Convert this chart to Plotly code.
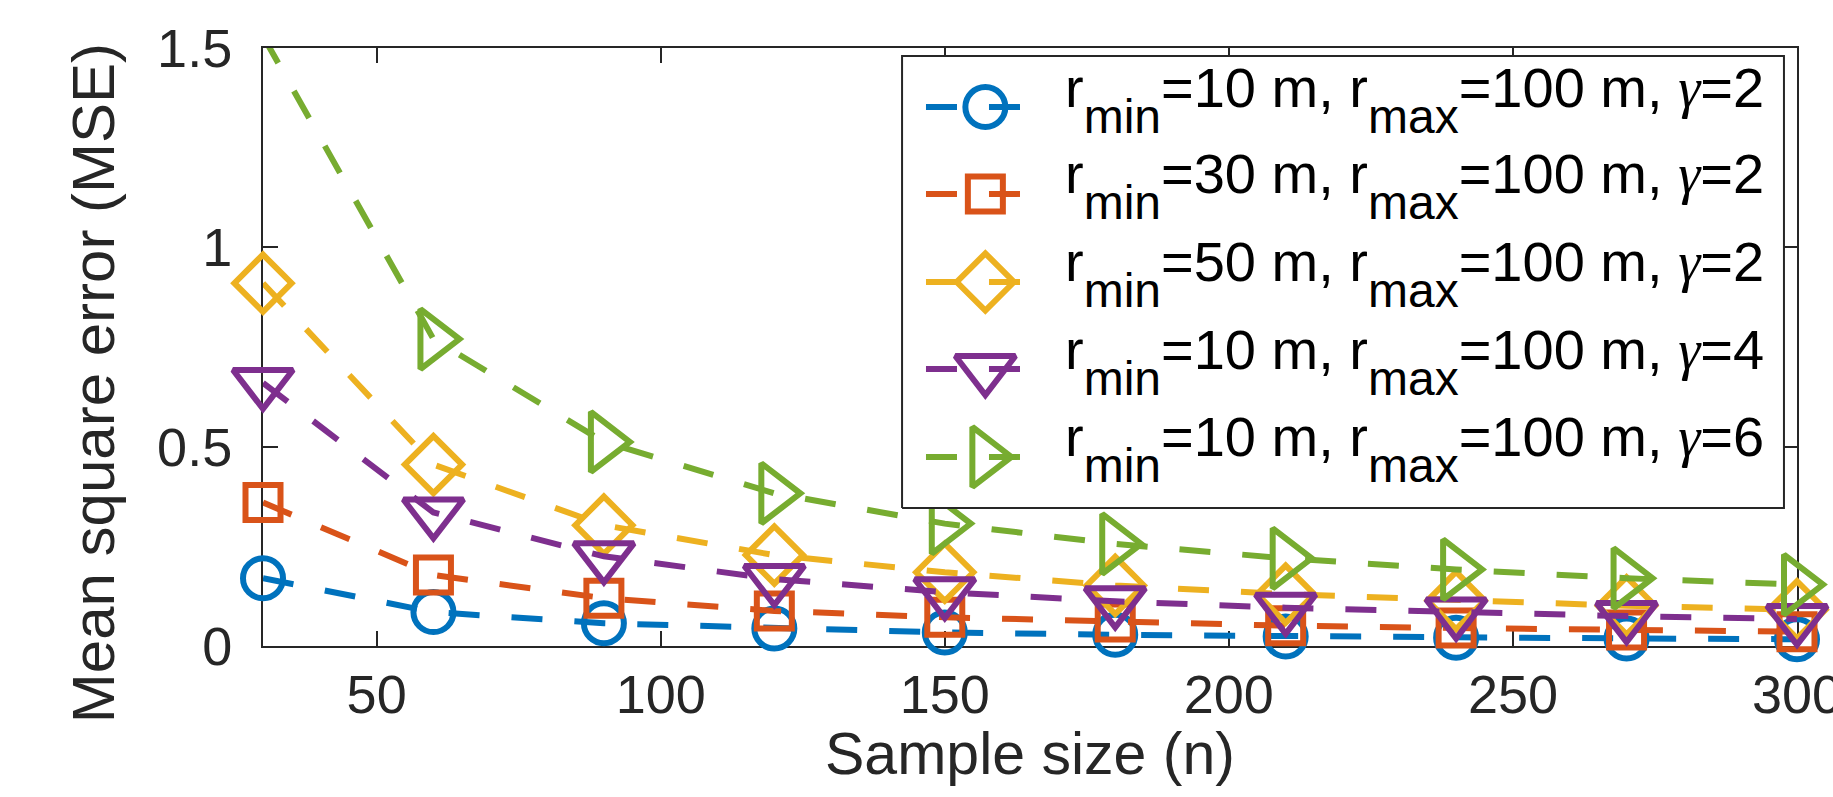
import plotly.graph_objects as go

# ---------------- data ----------------
sample_size = [30, 60, 90, 120, 150, 180, 210, 240, 270, 300]
mse_r10_g2 = [0.17, 0.085, 0.057, 0.044, 0.034, 0.028, 0.024, 0.021, 0.019, 0.017]
mse_r30_g2 = [0.36, 0.178, 0.12, 0.088, 0.072, 0.06, 0.051, 0.045, 0.04, 0.036]
mse_r50_g2 = [0.91, 0.455, 0.303, 0.228, 0.185, 0.152, 0.13, 0.114, 0.101, 0.091]
mse_r10_g4 = [0.66, 0.335, 0.225, 0.168, 0.135, 0.112, 0.096, 0.084, 0.075, 0.068]
mse_r10_g6 = [1.53, 0.77, 0.512, 0.383, 0.307, 0.256, 0.22, 0.192, 0.17, 0.154]

GAMMA = "<span style=\"font-family:'Liberation Serif'\"><i>γ</i></span>"
SUB = "<sub><span style=\"font-size:48px;baseline-shift:-14px\">{}</span></sub>"
series_labels = [
    "r" + SUB.format("min") + "=10 m, r" + SUB.format("max") + "=100 m, " + GAMMA + "=2",
    "r" + SUB.format("min") + "=30 m, r" + SUB.format("max") + "=100 m, " + GAMMA + "=2",
    "r" + SUB.format("min") + "=50 m, r" + SUB.format("max") + "=100 m, " + GAMMA + "=2",
    "r" + SUB.format("min") + "=10 m, r" + SUB.format("max") + "=100 m, " + GAMMA + "=4",
    "r" + SUB.format("min") + "=10 m, r" + SUB.format("max") + "=100 m, " + GAMMA + "=6",
]
x_ticks = [50, 100, 150, 200, 250, 300]
y_ticks = [0, 0.5, 1, 1.5]
y_tick_text = ["0", "0.5", "1", "1.5"]

# ---------------- styles ----------------
colors = ["#0072BD", "#D95319", "#EDB120", "#7E2F8E", "#77AC30"]
symbols = ["circle-open", "square-open", "diamond-open", "triangle-down-open", "triangle-right-open"]
msizes = [40, 35, 44, 52, 52]
DASH = "31px,32px"
LW = 6
MLW = 6
AX = "#262626"
FONT = "Liberation Sans, Helvetica, Arial, sans-serif"
X_RANGE = [30, 300]
Y_RANGE = [0, 1.5]

all_series = [mse_r10_g2, mse_r30_g2, mse_r50_g2, mse_r10_g4, mse_r10_g6]

fig = go.Figure()
for vals, c, s, ms in zip(all_series, colors, symbols, msizes):
    # points outside the axis limits get no marker (as in the original figure)
    sizes = [ms if Y_RANGE[0] <= v <= Y_RANGE[1] else 0 for v in vals]
    fig.add_trace(go.Scatter(
        x=sample_size, y=vals, mode="lines+markers",
        line=dict(color=c, width=LW, dash=DASH),
        marker=dict(symbol=s, size=sizes, color=c, opacity=1,
                    line=dict(color=c, width=MLW)),
        cliponaxis=False, showlegend=False, xaxis="x", yaxis="y",
    ))

# ---------------- custom legend (overlay axes 0..1 over plot area) ----------------
LEG_X0, LEG_X1, LEG_Y0, LEG_Y1 = 0.4166, 0.9915, 0.2308, 0.9866
row_y = [0.9013, 0.7559, 0.6087, 0.4632, 0.3161]
KEY_X0, KEY_X1, KEY_XM = 0.4322, 0.4954, 0.4709
TEXT_X = 0.5215

fig.add_trace(go.Scatter(
    x=[LEG_X0, LEG_X1, LEG_X1, LEG_X0, LEG_X0],
    y=[LEG_Y0, LEG_Y0, LEG_Y1, LEG_Y1, LEG_Y0],
    mode="lines", fill="toself", fillcolor="white",
    line=dict(color=AX, width=2), showlegend=False, hoverinfo="skip",
    xaxis="x2", yaxis="y2",
))
annotations = []
for ry, c, s, ms, lab in zip(row_y, colors, symbols, msizes, series_labels):
    fig.add_trace(go.Scatter(
        x=[KEY_X0, KEY_X1], y=[ry, ry], mode="lines",
        line=dict(color=c, width=LW, dash=DASH),
        showlegend=False, hoverinfo="skip", xaxis="x2", yaxis="y2",
    ))
    fig.add_trace(go.Scatter(
        x=[KEY_XM], y=[ry], mode="markers",
        marker=dict(symbol=s, size=ms, color=c, opacity=1, line=dict(color=c, width=MLW)),
        showlegend=False, hoverinfo="skip", xaxis="x2", yaxis="y2", cliponaxis=False,
    ))
    annotations.append(dict(
        text=lab, x=TEXT_X, y=ry, xref="paper", yref="paper",
        xanchor="left", yanchor="middle", showarrow=False, yshift=8,
        font=dict(family=FONT, size=56, color="black"),
    ))

annotations.append(dict(
    text="Sample size (n)", x=0.5, y=-0.18, xref="paper", yref="paper",
    xanchor="center", yanchor="middle", showarrow=False,
    font=dict(family=FONT, size=59, color=AX),
))
annotations.append(dict(
    text="Mean square error (MSE)", x=-0.11, y=0.44, xref="paper", yref="paper",
    xanchor="center", yanchor="middle", showarrow=False, textangle=-90,
    font=dict(family=FONT, size=60, color=AX),
))

axis_common = dict(
    showline=True, linecolor=AX, linewidth=2, mirror="ticks",
    ticks="inside", ticklen=15, tickwidth=2, tickcolor=AX,
    showgrid=False, zeroline=False, layer="below traces",
    tickfont=dict(family=FONT, size=54, color=AX),
    ticklabeloverflow="allow", automargin=False,
)

fig.update_layout(
    template="none",
    width=1833, height=797, autosize=False,
    margin=dict(l=263, r=36, t=48, b=151, pad=0),
    paper_bgcolor="white", plot_bgcolor="white",
    xaxis=dict(range=X_RANGE, tickvals=x_ticks, ticklabelstandoff=0, **axis_common),
    yaxis=dict(range=Y_RANGE, tickvals=y_ticks, ticktext=y_tick_text, ticklabelstandoff=18, **axis_common),
    xaxis2=dict(range=[0, 1], overlaying="x", visible=False, fixedrange=True, automargin=False),
    yaxis2=dict(range=[0, 1], overlaying="y", visible=False, fixedrange=True, automargin=False),
    annotations=annotations,
    showlegend=False,
)

fig.write_html("out.html", config={"displayModeBar": False},
               post_script="document.body.style.margin='0px';")
